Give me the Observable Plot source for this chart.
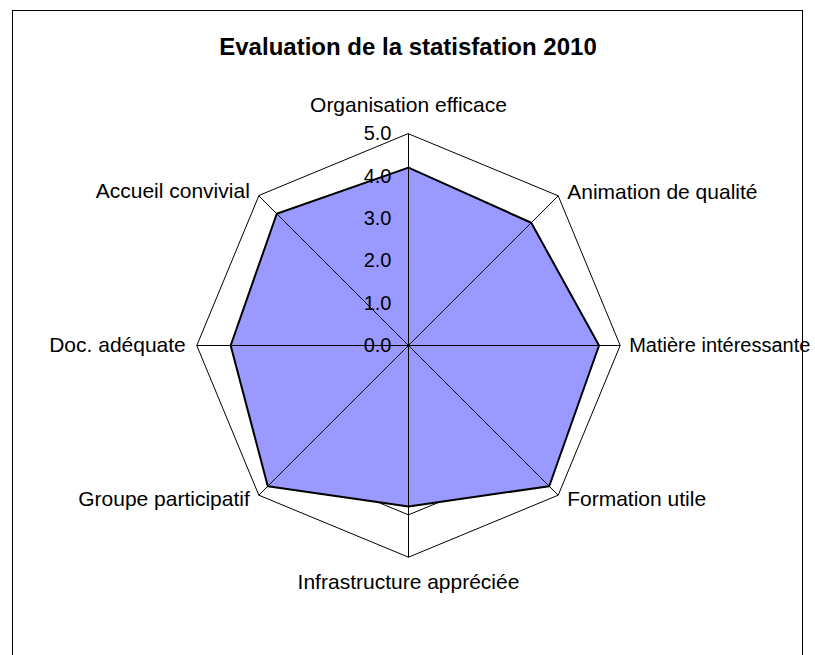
<!DOCTYPE html>
<html>
<head>
<meta charset="utf-8">
<script src="https://cdn.jsdelivr.net/npm/d3@7"></script>
<script src="https://cdn.jsdelivr.net/npm/@observablehq/plot@0.6"></script>
<style>
  html, body { margin: 0; padding: 0; background: #fff; }
  #chart svg { display: block; }
</style>
</head>
<body>
<div id="chart"></div>
<script>
const title = "Evaluation de la statisfation 2010";
const categories = [
  "Organisation efficace",
  "Animation de qualité",
  "Matière intéressante",
  "Formation utile",
  "Infrastructure appréciée",
  "Groupe participatif",
  "Doc. adéquate",
  "Accueil convivial"
];
const values = [4.2, 4.1, 4.5, 4.7, 3.8, 4.7, 4.2, 4.4];
const tickValues = [0, 1, 2, 3, 4, 5];
const tickLabels = ["0.0", "1.0", "2.0", "3.0", "4.0", "5.0"];

// layout (pixels)
const W = 815, H = 655, CX = 408, CY = 345, RPX = 211.7;
const maxValue = d3.max(tickValues);
const k = RPX / maxValue; // pixels per unit

const n = categories.length;
const angle = i => i * 2 * Math.PI / n;
const polar = (i, r) => ({x: r * Math.sin(angle(i)), y: r * Math.cos(angle(i))});

const dataPts = categories.map((c, i) => ({category: c, value: values[i], ...polar(i, values[i])}));
const grid = tickValues.flatMap(t => categories.map((c, i) => ({tick: t, ...polar(i, t)})));
const spokes = categories.map((c, i) => ({category: c, i, ...polar(i, maxValue)}));

const font = "Liberation Sans, Arial, Helvetica, sans-serif";

// label offsets by direction (style only)
const labelStyle = [
  {textAnchor: "middle", dx: 0, dy: -29, fontSize: 21},
  {textAnchor: "start", dx: 9, dy: -4, fontSize: 21},
  {textAnchor: "start", dx: 9, dy: 0, fontSize: 20},
  {textAnchor: "start", dx: 9, dy: 4, fontSize: 21},
  {textAnchor: "middle", dx: 0, dy: 25, fontSize: 21},
  {textAnchor: "end", dx: -9, dy: 4, fontSize: 21},
  {textAnchor: "end", dx: -11, dy: 0, fontSize: 21},
  {textAnchor: "end", dx: -9, dy: -5, fontSize: 21}
];

const labelMarks = spokes.map((s, i) =>
  Plot.text([s], {
    x: "x", y: "y", text: "category",
    ...labelStyle[i],
    lineAnchor: "middle",
    fontFamily: font, fill: "#000"
  })
);

const chart = Plot.plot({
  width: W,
  height: H,
  margin: 0,
  x: {domain: [-CX / k, (W - CX) / k], range: [0, W], axis: null},
  y: {domain: [-(H - CY) / k, CY / k], range: [H, 0], axis: null},
  style: {background: "#fff", fontFamily: font},
  marks: [
    Plot.frame({stroke: "#000", strokeWidth: 1, insetLeft: 12, insetRight: 13, insetTop: 10, insetBottom: -20}),
    Plot.line(grid, {x: "x", y: "y", z: "tick", curve: "linear-closed", stroke: "#000", strokeWidth: 1}),
    Plot.line(dataPts, {x: "x", y: "y", curve: "linear-closed", fill: "#9999ff", stroke: "none"}),
    Plot.link(spokes, {x1: 0, y1: 0, x2: "x", y2: "y", stroke: "#000", strokeWidth: 1}),
    Plot.line(dataPts, {x: "x", y: "y", curve: "linear-closed", stroke: "#000", strokeWidth: 2}),
    Plot.text(tickValues, {
      x: 0, y: d => d, text: (d, i) => tickLabels[i],
      textAnchor: "end", lineAnchor: "middle", dx: -17,
      fontSize: 20, fontFamily: font, fill: "#000"
    }),
    ...labelMarks,
    Plot.text([title], {
      frameAnchor: "top", dy: 47, lineAnchor: "middle",
      fontSize: 24, fontWeight: "bold", fontFamily: font, fill: "#000"
    })
  ]
});

document.getElementById("chart").append(chart);
</script>
</body>
</html>
